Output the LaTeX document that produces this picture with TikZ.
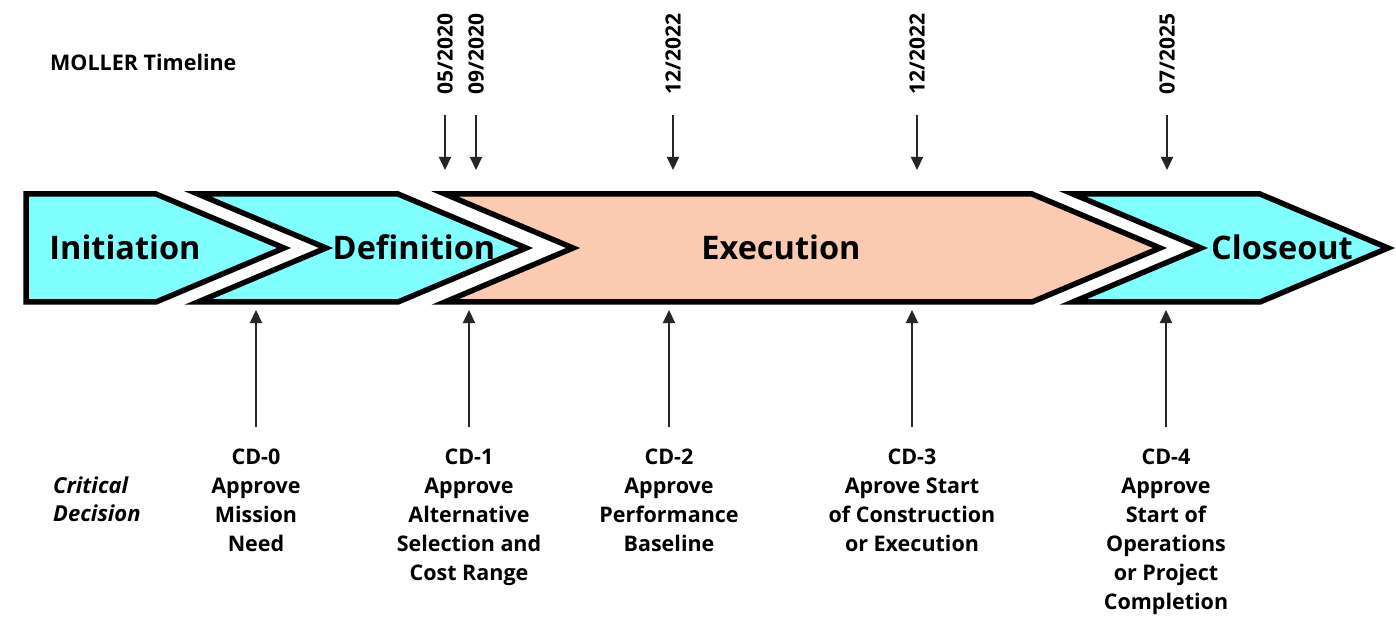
\documentclass[tikz,border=0pt]{standalone}
\usepackage{fontspec}
\setmainfont{Open Sans}
\usetikzlibrary{positioning, arrows.meta}
\definecolor{phasecyan}{RGB}{128,255,255}
\definecolor{phasepeach}{RGB}{251,203,177}
\tikzset{
	phase/.style={draw=black, line width=5.5pt}, % Contorno de las fases
	phasename/.style={font=\bfseries\fontsize{32.5}{36}\selectfont, inner sep=0pt},
	datelabel/.style={rotate=90, font=\bfseries\fontsize{21}{24}\selectfont, inner sep=0pt},
	cdlabel/.style={anchor=north, align=center, font=\bfseries\fontsize{21.5}{29}\selectfont, inner sep=0pt},
	milestone/.style={-{Triangle[length=13pt,width=12pt]}, line width=2pt, draw=black!85}
}

\begin{document}
\begin{tikzpicture}[x=1pt, y=-1pt]
	\useasboundingbox (0,0) rectangle (1396,617);
	% fases
	\path[phase, fill=phasecyan]  (26,194) -- (156,194) -- (284,248) -- (156,302) -- (26,302) -- cycle;
	\path[phase, fill=phasecyan]  (198,194) -- (398,194) -- (526,248) -- (398,302) -- (198,302) -- (326,248) -- cycle;
	\path[phase, fill=phasepeach] (445,194) -- (1032,194) -- (1160,248) -- (1032,302) -- (445,302) -- (573,248) -- cycle;
	\path[phase, fill=phasecyan]  (1073,194) -- (1260,194) -- (1388,248) -- (1260,302) -- (1073,302) -- (1201,248) -- cycle;
	\coordinate (bandtop) at (0,191);
	\coordinate (bandbot) at (0,305);

	\node[phasename] (initiation) at (125,247) {Initiation};
	\node[phasename] (definition) at (414,247) {Definition};
	\node[phasename] (execution)  at (781,247) {Execution};
	\node[phasename] (closeout)   at (1282,247) {Closeout};

	\node[anchor=west, font=\bfseries\fontsize{21.5}{24}\selectfont, inner sep=0pt] (title) at (50,62) {MOLLER Timeline};

	% fechas
	\node[datelabel] (d0520) at (445,54) {05/2020};
	\node[datelabel] (d0920) at (476,54) {09/2020};
	\node[datelabel] (d1222a) at (673,54) {12/2022};
	\node[datelabel] (d1222b) at (917,54) {12/2022};
	\node[datelabel] (d0725) at (1167,54) {07/2025};
	\draw[milestone, shorten <=21pt, shorten >=21pt] (d0520) -- (d0520 |- bandtop);
	\draw[milestone, shorten <=21pt, shorten >=21pt] (d0920) -- (d0920 |- bandtop);
	\draw[milestone, shorten <=21pt, shorten >=21pt] (d1222a) -- (d1222a |- bandtop);
	\draw[milestone, shorten <=21pt, shorten >=21pt] (d1222b) -- (d1222b |- bandtop);
	\draw[milestone, shorten <=21pt, shorten >=21pt] (d0725) -- (d0725 |- bandtop);

	% decisiones
	\node[anchor=north west, align=left, font=\bfseries\itshape\fontsize{22}{28}\selectfont, inner sep=0pt] (critical) at (53,477) {Critical\\Decision};
	\node[cdlabel] (cd0) at (256,449) {CD-0\\Approve\\Mission\\Need};
	\node[cdlabel] (cd1) at (469,449) {CD-1\\Approve\\Alternative\\Selection and\\Cost Range};
	\node[cdlabel] (cd2) at (669,449) {CD-2\\Approve\\Performance\\Baseline};
	\node[cdlabel] (cd3) at (912,449) {CD-3\\Aprove Start\\of Construction\\or Execution};
	\node[cdlabel] (cd4) at (1166,449) {CD-4\\Approve\\Start of\\Operations\\or Project\\Completion};
	\draw[milestone, shorten <=22pt, shorten >=5pt] (cd0.north) -- (cd0.north |- bandbot);
	\draw[milestone, shorten <=22pt, shorten >=5pt] (cd1.north) -- (cd1.north |- bandbot);
	\draw[milestone, shorten <=22pt, shorten >=5pt] (cd2.north) -- (cd2.north |- bandbot);
	\draw[milestone, shorten <=22pt, shorten >=5pt] (cd3.north) -- (cd3.north |- bandbot);
	\draw[milestone, shorten <=22pt, shorten >=5pt] (cd4.north) -- (cd4.north |- bandbot);
\end{tikzpicture}
\end{document}
